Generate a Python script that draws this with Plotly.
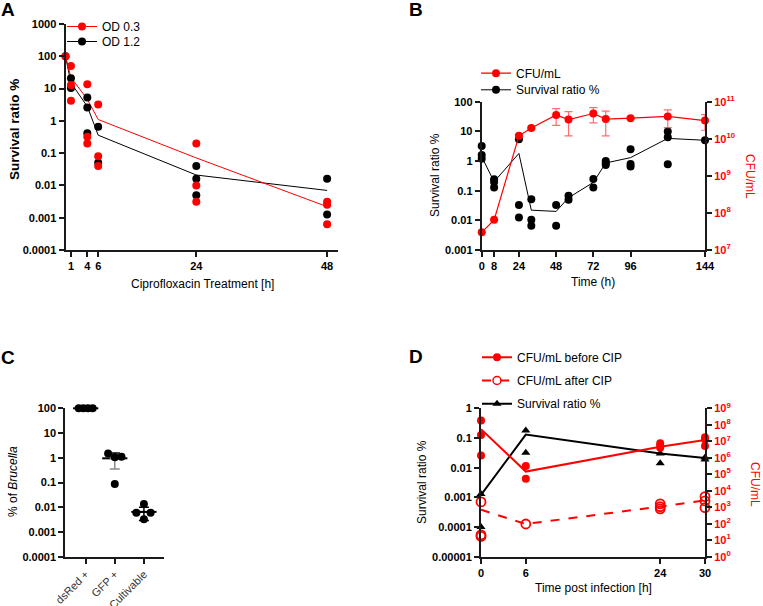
import plotly.graph_objects as go

W, H = 763, 606

# ---- panel A: survival after ciprofloxacin treatment ----
a_t_red = [0, 1, 1, 1, 4, 4, 4, 6, 6, 6, 24, 24, 24, 48, 48, 48]
a_v_red = [100, 50, 13, 4.2, 13.5, 0.32, 0.2, 3.2, 0.08, 0.04,
           0.2, 0.01, 0.0031, 0.0031, 0.0025, 0.00063]
a_t_blk = [0, 1, 1, 4, 4, 4, 6, 6, 24, 24, 24, 48, 48]
a_v_blk = [100, 21, 10.5, 5.3, 2.6, 0.41, 0.66, 0.05,
           0.04, 0.016, 0.005, 0.016, 0.00125]
a_t_mean = [0, 1, 4, 6, 24, 48]
a_mean_red = [100, 22, 4.7, 1.1, 0.071, 0.0022]
a_mean_blk = [100, 15, 2.8, 0.36, 0.021, 0.007]
a_xticks = [1, 4, 6, 24, 48]

# ---- panel B: CFU and survival over time ----
b_t_cfu = [0, 8, 24, 32, 48, 56, 72, 80, 96, 120, 144]
b_cfu = [3e7, 6.5e7, 1.2e10, 1.95e10, 4.4e10, 3.3e10, 4.8e10, 3.4e10, 3.6e10, 4.0e10, 3.1e10]
b_cfu_sd = [0, 0, 1e9, 1e9, 2.1e10, 2.1e10, 2.1e10, 2.2e10, 2e9, 2.0e10, 1.4e10]
b_t_surv = [0, 0, 0, 8, 8, 8, 24, 24, 24, 32, 32, 32, 48, 48, 56, 56,
            72, 72, 80, 80, 80, 96, 96, 96, 120, 120, 120, 144]
b_surv = [3.2, 1.6, 1.2, 0.245, 0.195, 0.127, 5.4, 0.033, 0.0125,
          0.051, 0.0105, 0.0066, 0.033, 0.0066, 0.067, 0.049,
          0.25, 0.127, 1.0, 0.84, 0.74, 2.5, 0.8, 0.65, 9.8, 6.3, 0.78, 5.0]
b_surv_mean = [1.4, 0.2, 1.8, 0.022, 0.02, 0.058, 0.19, 0.86, 1.3, 5.8, 5.0]
b_xticks = [0, 8, 24, 48, 72, 96, 144]

# ---- panel C: % of Brucella ----
c_cats = ["dsRed +", "GFP +", "Cultivable"]
c_dsred = [100, 100, 100, 100]
c_gfp = [1.5, 1.05, 1.1, 0.087]
c_cult = [0.0135, 0.006, 0.006, 0.0033]
c_mean = [100, 0.95, 0.0065]
c_sd = [0, 0.6, 0.0036]

# ---- panel D: CFU before/after CIP and survival ----
d_t_before = [0, 0, 0, 6, 6, 24, 24, 24, 30, 30, 30]
d_before = [1.8e8, 2.4e7, 1.35e6, 3.2e5, 5.4e4, 7.6e6, 5.4e6, 4e6, 1.75e7, 1.3e7, 5.2e6]
d_t_after = [0, 0, 0, 6, 24, 24, 24, 30, 30, 30]
d_after = [2.1e3, 21, 17, 96, 1.6e3, 1.07e3, 800, 4.4e3, 2.4e3, 940]
d_t_surv = [0, 0, 6, 6, 24, 24, 30, 30]
d_surv = [0.0013, 1e-4, 0.177, 0.032, 0.03, 0.014, 0.022, 0.019]
d_t_mean = [0, 6, 24, 30]
d_before_mean = [5.4e7, 1.45e5, 4.7e6, 1.2e7]
d_after_mean = [700, 96, 1100, 2600]
d_surv_mean = [0.0012, 0.13, 0.03, 0.021]
d_xticks = [0, 6, 24, 30]

RED = "#ff0000"
INK = "#1a1a1a"
FONT = "Liberation Sans, Arial, sans-serif"


def xd(a, b):
    return [a / W, b / W]


def yd(top, bottom):
    return [1 - bottom / H, 1 - top / H]


def dec_labels(lo, hi):
    vals = [10.0 ** k for k in range(lo, hi + 1)]
    text = [("%.6f" % v).rstrip("0").rstrip(".") if v < 1 else str(int(v)) for v in vals]
    return vals, text


def pow_labels(lo, hi):
    return [10.0 ** k for k in range(lo, hi + 1)], ["10<sup>%d</sup>" % k for k in range(lo, hi + 1)]


def axis(**kw):
    base = dict(showline=True, linecolor=INK, linewidth=2, ticks="outside", ticklen=5,
                tickwidth=1.5, tickcolor=INK, showgrid=False, zeroline=False, automargin=False,
                tickfont=dict(size=11, weight="bold", color="black", family=FONT))
    base.update(kw)
    return base


def log_y(lo, hi, domain, **kw):
    vals, text = dec_labels(lo, hi)
    return axis(type="log", range=[lo, hi], domain=domain, tickvals=vals, ticktext=text, **kw)


def legend_at(text_x, center_y):
    # one legend box per entry so each row can be placed where the reference has it
    return dict(x=(text_x - 40) / W, y=1 - (center_y - 14) / H, xanchor="left", yanchor="top",
                bgcolor="rgba(0,0,0,0)", font=dict(size=12))


fig = go.Figure()

# panel A
fig.add_trace(go.Scatter(x=a_t_mean, y=a_mean_blk, mode="lines", line=dict(color="black", width=1),
                         xaxis="x", yaxis="y", showlegend=False))
fig.add_trace(go.Scatter(x=a_t_mean, y=a_mean_red, mode="lines", line=dict(color=RED, width=1),
                         xaxis="x", yaxis="y", showlegend=False))
fig.add_trace(go.Scatter(x=a_t_blk, y=a_v_blk, mode="markers", marker=dict(color="black", size=8),
                         xaxis="x", yaxis="y", showlegend=False, cliponaxis=False))
fig.add_trace(go.Scatter(x=a_t_red, y=a_v_red, mode="markers", marker=dict(color=RED, size=8),
                         xaxis="x", yaxis="y", showlegend=False, cliponaxis=False))
fig.add_trace(go.Scatter(x=[None], y=[None], mode="lines+markers", name="OD 0.3",
                         line=dict(color=RED, width=1), marker=dict(color=RED, size=8),
                         xaxis="x", yaxis="y", legend="legend"))
fig.add_trace(go.Scatter(x=[None], y=[None], mode="lines+markers", name="OD 1.2",
                         line=dict(color="black", width=1), marker=dict(color="black", size=8),
                         xaxis="x", yaxis="y", legend="legend2"))

# panel B
fig.add_trace(go.Scatter(x=b_t_cfu, y=b_cfu, mode="lines+markers", name="CFU/mL",
                         line=dict(color=RED, width=1.2), marker=dict(color=RED, size=8),
                         error_y=dict(type="data", array=b_cfu_sd, color="rgba(255,60,60,0.75)",
                                      thickness=1.2, width=4),
                         xaxis="x2", yaxis="y3", legend="legend3", cliponaxis=False))
fig.add_trace(go.Scatter(x=b_t_cfu, y=b_surv_mean, mode="lines", line=dict(color="black", width=1),
                         xaxis="x2", yaxis="y2", showlegend=False))
fig.add_trace(go.Scatter(x=b_t_surv, y=b_surv, mode="markers", marker=dict(color="black", size=8),
                         xaxis="x2", yaxis="y2", showlegend=False, cliponaxis=False))
fig.add_trace(go.Scatter(x=[None], y=[None], mode="lines+markers", name="Survival ratio %",
                         line=dict(color="black", width=1), marker=dict(color="black", size=8),
                         xaxis="x2", yaxis="y2", legend="legend4"))

# panel C: mean +/- SD bars, then individual points
lower_col = ["black", "#8a8a8a", "black"]
for i, cat in enumerate(c_cats):
    fig.add_trace(go.Scatter(x=[i], y=[c_mean[i]], mode="markers",
                             marker=dict(symbol="line-ew", size=18, line=dict(color="black", width=2)),
                             error_y=dict(type="data", symmetric=False, array=[c_sd[i]], arrayminus=[0],
                                          color="black", thickness=1.5, width=5),
                             xaxis="x3", yaxis="y4", showlegend=False, cliponaxis=False))
    fig.add_trace(go.Scatter(x=[i], y=[c_mean[i]], mode="markers",
                             marker=dict(symbol="line-ew", size=1, line=dict(color=lower_col[i], width=0)),
                             error_y=dict(type="data", symmetric=False, array=[0], arrayminus=[c_sd[i]],
                                          color=lower_col[i], thickness=1.5, width=5),
                             xaxis="x3", yaxis="y4", showlegend=False, cliponaxis=False))
jitter = [[-0.24, -0.08, 0.08, 0.24], [-0.23, 0, 0.23, 0], [0, -0.26, 0.23, 0]]
for i, vals in enumerate([c_dsred, c_gfp, c_cult]):
    fig.add_trace(go.Scatter(x=[i + j for j in jitter[i]], y=vals, mode="markers",
                             marker=dict(color="black", size=8),
                             xaxis="x3", yaxis="y4", showlegend=False, cliponaxis=False))

# panel D
fig.add_trace(go.Scatter(x=d_t_mean, y=d_surv_mean, mode="lines", line=dict(color="black", width=2),
                         xaxis="x4", yaxis="y5", showlegend=False))
fig.add_trace(go.Scatter(x=d_t_surv, y=d_surv, mode="markers",
                         marker=dict(color="black", size=8, symbol="triangle-up"),
                         xaxis="x4", yaxis="y5", showlegend=False, cliponaxis=False))
fig.add_trace(go.Scatter(x=d_t_mean, y=d_before_mean, mode="lines", line=dict(color=RED, width=2),
                         xaxis="x4", yaxis="y6", showlegend=False))
fig.add_trace(go.Scatter(x=d_t_mean, y=d_after_mean, mode="lines",
                         line=dict(color=RED, width=2, dash="dash"),
                         xaxis="x4", yaxis="y6", showlegend=False))
fig.add_trace(go.Scatter(x=d_t_before, y=d_before, mode="markers", marker=dict(color=RED, size=8),
                         xaxis="x4", yaxis="y6", showlegend=False, cliponaxis=False))
fig.add_trace(go.Scatter(x=d_t_after, y=d_after, mode="markers",
                         marker=dict(color=RED, size=9, symbol="circle-open", line=dict(width=1.8)),
                         xaxis="x4", yaxis="y6", showlegend=False, cliponaxis=False))
fig.add_trace(go.Scatter(x=[None], y=[None], mode="lines+markers", name="CFU/mL before CIP",
                         line=dict(color=RED, width=2), marker=dict(color=RED, size=8),
                         xaxis="x4", yaxis="y6", legend="legend5"))
fig.add_trace(go.Scatter(x=[None], y=[None], mode="lines+markers", name="CFU/mL after CIP",
                         line=dict(color=RED, width=2, dash="dash"),
                         marker=dict(color=RED, size=8, symbol="circle-open", line=dict(width=1.5)),
                         xaxis="x4", yaxis="y6", legend="legend6"))
fig.add_trace(go.Scatter(x=[None], y=[None], mode="lines+markers", name="Survival ratio %",
                         line=dict(color="black", width=2),
                         marker=dict(color="black", size=8, symbol="triangle-up"),
                         xaxis="x4", yaxis="y5", legend="legend7"))

r_vals_b, r_text_b = pow_labels(7, 11)
r_vals_d, r_text_d = pow_labels(0, 9)
red_ticks = dict(size=11, weight="bold", color=RED, family=FONT)

fig.update_layout(
    template="none",
    width=W, height=H, margin=dict(l=0, r=0, t=0, b=0, autoexpand=False),
    paper_bgcolor="white", plot_bgcolor="white",
    font=dict(family=FONT, size=12, color="black"),
    xaxis=axis(domain=xd(65.5, 338), range=[0, 50], anchor="y", tickvals=a_xticks),
    yaxis=log_y(-4, 3, yd(24, 250), anchor="x"),
    xaxis2=axis(domain=xd(481.7, 705), range=[0, 144], anchor="y2", tickvals=b_xticks),
    yaxis2=log_y(-3, 2, yd(101.7, 250), anchor="x2"),
    yaxis3=axis(type="log", range=[7, 11], overlaying="y2", side="right", anchor="x2",
                tickvals=r_vals_b, ticktext=r_text_b, tickfont=red_ticks),
    xaxis3=axis(domain=xd(65.3, 164.3), range=[-0.7, 2.7], anchor="y4",
                tickvals=[0, 1, 2], ticktext=c_cats, tickangle=-45,
                tickfont=dict(size=11, color="#333", family=FONT)),
    yaxis4=log_y(-4, 2, yd(408.3, 556.7), anchor="x3"),
    xaxis4=axis(domain=xd(481, 705), range=[0, 30], anchor="y5", tickvals=d_xticks),
    yaxis5=log_y(-5, 0, yd(408.3, 556.7), anchor="x4"),
    yaxis6=axis(type="log", range=[0, 9], overlaying="y5", side="right", anchor="x4",
                tickvals=r_vals_d, ticktext=r_text_d, tickfont=red_ticks),
    legend=legend_at(102, 26),
    legend2=legend_at(102, 41),
    legend3=legend_at(516, 72.7),
    legend4=legend_at(516, 89.3),
    legend5=legend_at(517, 356.7),
    legend6=legend_at(517, 380),
    legend7=legend_at(517, 403.3),
)


def label(x, y, text, size=12, bold=False, color="black", angle=0):
    fig.add_annotation(x=x / W, y=1 - y / H, xref="paper", yref="paper", text=text,
                       showarrow=False, textangle=angle, xanchor="center", yanchor="middle",
                       font=dict(size=size, color=color, family=FONT,
                                 weight="bold" if bold else "normal"))


# panel letters
label(8, 10, "A", size=19, bold=True)
label(416, 10, "B", size=19, bold=True)
label(8, 357, "C", size=19, bold=True)
label(416, 356, "D", size=19, bold=True)

# axis titles
label(14, 130, "Survival ratio %", size=13.5, bold=True, angle=-90)
label(202, 284, "Ciprofloxacin Treatment [h]")
label(435, 175, "Survival ratio %", angle=-90)
label(593, 282, "Time (h)")
label(750, 176, "CFU/mL", color=RED, angle=90)
label(13, 482, "% of <i>Brucella</i>", angle=-90)
label(422, 482, "Survival ratio %", angle=-90)
label(593, 588, "Time post infection [h]")
label(755, 484, "CFU/mL", color=RED, angle=90)

# the page body has a default 8px margin; drop it so the figure sits at the window origin
fig.write_html("out.html", config={"displayModeBar": False},
               post_script="document.body.style.margin='0';")
